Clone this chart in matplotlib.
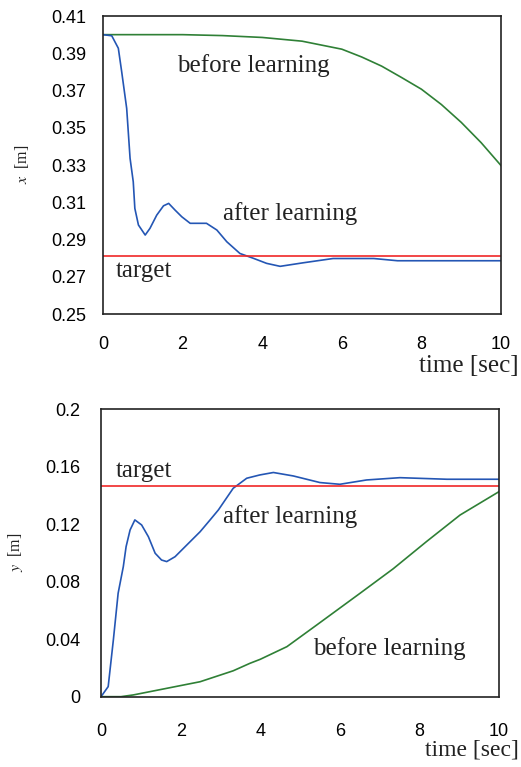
import matplotlib.pyplot as plt

plt.rcParams['mathtext.fontset'] = 'stix'

# x position (top panel)
t_x_before = [0, 1, 2, 3, 4, 5, 6, 6.5, 7, 7.5, 8, 8.5, 9, 9.5, 10]
x_before = [0.400, 0.400, 0.400, 0.3995, 0.3985, 0.3965, 0.3922, 0.388, 0.3831,
            0.377, 0.3707, 0.3625, 0.3529, 0.342, 0.3297]
t_x_after = [0, 0.22, 0.385, 0.47, 0.595, 0.68, 0.76, 0.80, 0.89, 1.06, 1.18, 1.35,
             1.52, 1.65, 1.81, 1.98, 2.19, 2.6, 2.86, 3.11, 3.44, 3.78, 4.11, 4.45,
             5.03, 5.78, 6.8, 7.4, 10]
x_after = [0.400, 0.3994, 0.3927, 0.380, 0.3604, 0.3336, 0.321, 0.3067, 0.2978,
           0.2924, 0.296, 0.3031, 0.3081, 0.3094, 0.3058, 0.3022, 0.2987, 0.2987,
           0.2951, 0.2888, 0.2825, 0.2799, 0.2772, 0.2756, 0.2775, 0.2798, 0.2798,
           0.2786, 0.2786]
x_target = 0.2812

# y position (bottom panel)
t_y_before = [0, 0.5, 0.81, 1.65, 2.49, 3.32, 3.74, 4.0, 4.67, 5.42, 6.51, 7.34,
              8.18, 9.02, 10]
y_before = [0, 0, 0.0012, 0.0058, 0.0104, 0.018, 0.0232, 0.026, 0.0348, 0.0499,
            0.072, 0.089, 0.108, 0.1264, 0.1427]
t_y_after = [0, 0.18, 0.31, 0.43, 0.56, 0.63, 0.73, 0.85, 1.02, 1.19, 1.36, 1.52,
             1.65, 1.86, 2.03, 2.24, 2.49, 2.74, 2.95, 3.12, 3.32, 3.66, 3.99, 4.33,
             4.83, 5.5, 6.0, 6.67, 7.51, 8.69, 10]
y_after = [0, 0.007, 0.0395, 0.072, 0.0905, 0.1044, 0.116, 0.123, 0.1195, 0.1113,
           0.0998, 0.0951, 0.094, 0.0974, 0.1021, 0.1079, 0.1148, 0.123, 0.130,
           0.1369, 0.145, 0.152, 0.1543, 0.156, 0.1536, 0.149, 0.1478, 0.1508,
           0.1524, 0.1513, 0.1513]
y_target = 0.1466

x_ticks = [0, 2, 4, 6, 8, 10]
top_yticks = [0.25, 0.27, 0.29, 0.31, 0.33, 0.35, 0.37, 0.39, 0.41]
bot_yticks = [0, 0.04, 0.08, 0.12, 0.16, 0.2]

blue = '#2456b4'
green = '#2f8036'
red = '#f02828'
ink = '#222222'
serif = 'Liberation Serif'
sans = 'Liberation Sans'
fs = 18

fig = plt.figure(figsize=(5.21, 7.67), dpi=100)
ax1 = fig.add_axes([0.1977, 0.5906, 0.764, 0.3885])
ax2 = fig.add_axes([0.1939, 0.0917, 0.764, 0.3747])

ax1.plot(t_x_before, x_before, color=green, lw=1.2)
ax1.plot(t_x_after, x_after, color=blue, lw=1.2)
ax1.axhline(x_target, color=red, lw=1.2)
ax1.set_xlim(0, 10)
ax1.set_ylim(0.25, 0.41)
ax1.set_yticks(top_yticks)
ax1.set_yticklabels(['%.2f' % v for v in top_yticks])
ax1.tick_params(axis='y', length=0, pad=12)
ax1.tick_params(axis='x', length=0, pad=16)
ax1.text(1.86, 0.380, 'before learning', family=serif, fontsize=fs, color=ink)
ax1.text(3.02, 0.3004, 'after learning', family=serif, fontsize=fs, color=ink)
ax1.text(0.33, 0.2698, 'target', family=serif, fontsize=fs, color=ink)

ax2.plot(t_y_before, y_before, color=green, lw=1.2)
ax2.plot(t_y_after, y_after, color=blue, lw=1.2)
ax2.axhline(y_target, color=red, lw=1.2)
ax2.set_xlim(0, 10)
ax2.set_ylim(0, 0.2)
ax2.set_yticks(bot_yticks)
ax2.set_yticklabels(['0', '0.04', '0.08', '0.12', '0.16', '0.2'])
ax2.tick_params(axis='y', length=0, pad=15)
ax2.tick_params(axis='x', length=0, pad=19)
ax2.text(0.38, 0.153, 'target', family=serif, fontsize=fs, color=ink)
ax2.text(3.07, 0.1207, 'after learning', family=serif, fontsize=fs, color=ink)
ax2.text(5.33, 0.029, 'before learning', family=serif, fontsize=fs, color=ink)

for ax in (ax1, ax2):
    ax.set_xticks(x_ticks)
    for lab in ax.get_xticklabels() + ax.get_yticklabels():
        lab.set_family(sans)
        lab.set_fontsize(13)
    for s in ax.spines.values():
        s.set_linewidth(1.2)
        s.set_color(ink)

fig.text(0.996, 0.515, 'time [sec]', family=serif, fontsize=fs, ha='right',
         va='baseline', color=ink)
fig.text(0.996, 0.015, 'time [sec]', family=serif, fontsize=17, ha='right',
         va='baseline', color=ink)
fig.text(0.042, 0.786, '$x$  [m]', family=serif, fontsize=11.5, rotation=90,
         ha='center', va='center', color=ink)
fig.text(0.029, 0.280, '$y$  [m]', family=serif, fontsize=11.5, rotation=90,
         ha='center', va='center', color=ink)

fig.savefig('out.png', dpi=100)
